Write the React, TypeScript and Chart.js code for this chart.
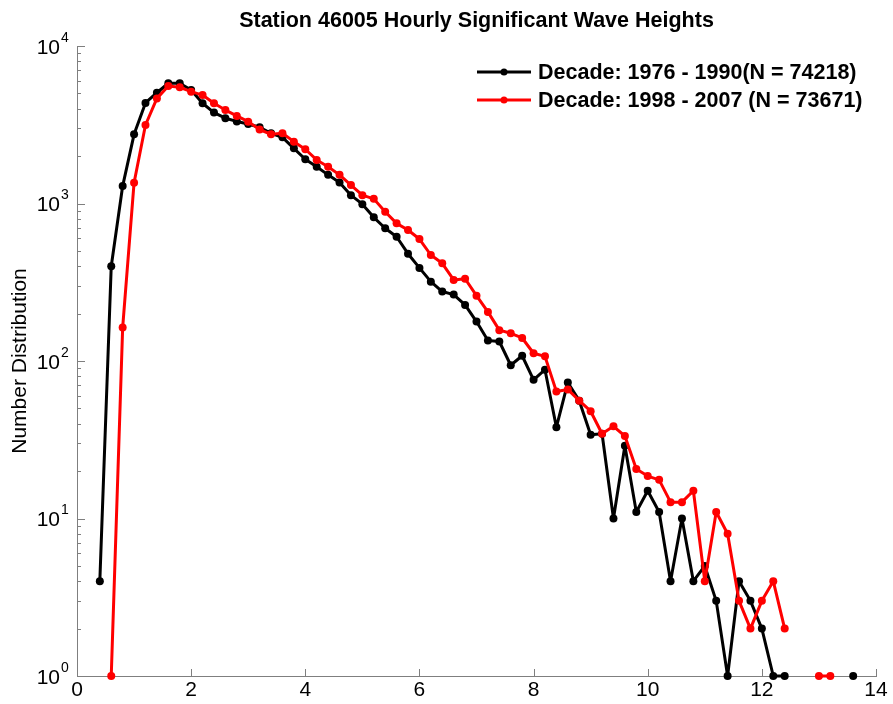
import React, { useEffect, useRef } from "react";
import { Chart, registerables } from "chart.js";

Chart.register(...registerables);

const chartTitle = "Station 46005 Hourly Significant Wave Heights";
const yAxisTitle = "Number Distribution";
const seriesLabels = [
  "Decade: 1976 - 1990(N = 74218)",
  "Decade: 1998 - 2007 (N = 73671)",
];
const seriesColors = ["#000000", "#ff0000"];

const waveHeights = [
  0.4, 0.6, 0.8, 1.0, 1.2, 1.4, 1.6, 1.8, 2.0, 2.2, 2.4, 2.6, 2.8, 3.0, 3.2, 3.4,
  3.6, 3.8, 4.0, 4.2, 4.4, 4.6, 4.8, 5.0, 5.2, 5.4, 5.6, 5.8, 6.0, 6.2, 6.4, 6.6,
  6.8, 7.0, 7.2, 7.4, 7.6, 7.8, 8.0, 8.2, 8.4, 8.6, 8.8, 9.0, 9.2, 9.4, 9.6, 9.8,
  10.0, 10.2, 10.4, 10.6, 10.8, 11.0, 11.2, 11.4, 11.6, 11.8, 12.0, 12.2, 12.4,
  12.6, 12.8, 13.0, 13.2, 13.4, 13.6,
];

const counts1976 = [
  4, 400, 1290, 2750, 4350, 5050, 5800, 5800, 5250, 4330, 3780, 3480, 3320, 3200, 3050, 2790,
  2630, 2240, 1910, 1710, 1520, 1360, 1130, 990, 817, 696, 615, 480, 390, 319, 276, 264,
  227, 178, 135, 133, 94, 108, 76, 88, 38, 73, 56, 34, 34.5, 10, 29, 11,
  15, 11, 4, 10, 4, 5, 3, 1, 4, 3, 2, 1, 1,
  null, null, null, null, null, 1,
];

const counts1998 = [
  null, 1, 163, 1356, 3150, 4650, 5570, 5470, 5130, 4880, 4330, 3920, 3600, 3310, 2950, 2750,
  2790, 2470, 2210, 1890, 1710, 1520, 1310, 1130, 1070, 887, 748, 679, 595, 471, 417, 327,
  333, 260, 205, 157, 150, 140, 112, 107, 64, 66, 56, 48, 34.5, 38.5, 33.4, 20.6,
  18.6, 17.6, 12.7, 12.7, 15, 4, 11, 8, 3, 2, 3, 4, 2,
  null, null, 1, 1, null, null,
];

const yDecadeExponents = [0, 1, 2, 3, 4];

const AXIS_COLOR = "#7f7f7f";
const FONT = "'Liberation Sans', Arial, sans-serif";

const decorPlugin = {
  id: "decor",
  afterDraw(chart: any) {
    const { ctx, chartArea: ca, scales } = chart;
    const xs = scales.x;
    const ys = scales.y;
    ctx.save();

    // inward ticks
    ctx.strokeStyle = AXIS_COLOR;
    ctx.lineWidth = 1;
    ctx.beginPath();
    for (const t of xs.ticks) {
      const px = Math.round(xs.getPixelForValue(t.value)) + 0.5;
      ctx.moveTo(px, ca.bottom);
      ctx.lineTo(px, ca.bottom - 7);
    }
    const topExp = yDecadeExponents[yDecadeExponents.length - 1];
    for (const e of yDecadeExponents) {
      for (let m = 1; m <= 9; m++) {
        const v = m * Math.pow(10, e);
        if (v > Math.pow(10, topExp)) break;
        const py = Math.round(ys.getPixelForValue(v)) + 0.5;
        const len = m === 1 ? 8 : 4;
        ctx.moveTo(ca.left, py);
        ctx.lineTo(ca.left + len, py);
      }
    }
    ctx.stroke();

    // y tick labels 10^n
    ctx.fillStyle = "#000";
    for (const e of yDecadeExponents) {
      const py = ys.getPixelForValue(Math.pow(10, e));
      ctx.font = `21px ${FONT}`;
      ctx.textAlign = "right";
      ctx.textBaseline = "middle";
      ctx.fillText("10", 60, py + 2);
      ctx.font = `14px ${FONT}`;
      ctx.textAlign = "left";
      ctx.fillText(String(e), 61, py - 8);
    }

    // title
    ctx.font = `bold 21.5px ${FONT}`;
    ctx.textAlign = "center";
    ctx.textBaseline = "middle";
    ctx.fillText(chartTitle, (ca.left + ca.right) / 2, 21);

    // legend
    const rows = [72, 100];
    for (let i = 0; i < seriesLabels.length; i++) {
      const y = rows[i];
      ctx.strokeStyle = seriesColors[i];
      ctx.lineWidth = 3;
      ctx.beginPath();
      ctx.moveTo(477, y);
      ctx.lineTo(531, y);
      ctx.stroke();
      ctx.fillStyle = seriesColors[i];
      ctx.beginPath();
      ctx.arc(504, y, 3.5, 0, Math.PI * 2);
      ctx.fill();
      ctx.fillStyle = "#000";
      ctx.font = `bold 21.5px ${FONT}`;
      ctx.textAlign = "left";
      ctx.textBaseline = "middle";
      ctx.fillText(seriesLabels[i], 538, y + 1);
    }
    ctx.restore();
  },
};

export default function App() {
  const canvasRef = useRef<HTMLCanvasElement | null>(null);

  useEffect(() => {
    document.body.style.margin = "0";
    const canvas = canvasRef.current;
    if (!canvas) return;

    const makeData = (arr: (number | null)[]) =>
      waveHeights.map((h, i) => ({ x: h, y: arr[i] }));

    const common = {
      borderWidth: 3,
      pointRadius: 4,
      pointBorderWidth: 0,
      borderJoinStyle: "round" as const,
      borderCapStyle: "round" as const,
      spanGaps: false,
      clip: false as any,
    };

    const chart = new Chart(canvas, {
      type: "line",
      data: {
        datasets: [
          {
            label: seriesLabels[0],
            data: makeData(counts1976) as any,
            borderColor: seriesColors[0],
            backgroundColor: seriesColors[0],
            pointBackgroundColor: seriesColors[0],
            pointBorderColor: seriesColors[0],
            ...common,
            order: 1,
          },
          {
            label: seriesLabels[1],
            data: makeData(counts1998) as any,
            borderColor: seriesColors[1],
            backgroundColor: seriesColors[1],
            pointBackgroundColor: seriesColors[1],
            pointBorderColor: seriesColors[1],
            ...common,
            order: 0,
          },
        ],
      },
      options: {
        animation: false,
        responsive: false,
        devicePixelRatio: 1,
        layout: { padding: { top: 46, right: 17, left: 0, bottom: 0 } },
        plugins: {
          legend: { display: false },
          title: { display: false },
          tooltip: { enabled: false },
        },
        scales: {
          x: {
            type: "linear",
            min: 0,
            max: 14,
            grid: { drawOnChartArea: false, drawTicks: false },
            border: { display: true, color: AXIS_COLOR, width: 1 },
            ticks: {
              stepSize: 2,
              padding: 2,
              color: "#000",
              font: { family: FONT, size: 21 },
              maxRotation: 0,
            },
            afterFit: (scale: any) => {
              scale.height = 28;
            },
          },
          y: {
            type: "logarithmic",
            min: 1,
            max: 10000,
            grid: { drawOnChartArea: false, drawTicks: false },
            border: { display: true, color: AXIS_COLOR, width: 1 },
            ticks: { display: false },
            title: {
              display: true,
              text: yAxisTitle,
              color: "#000",
              font: { family: FONT, size: 21 },
              padding: { top: 8, bottom: 0 },
            },
            afterFit: (scale: any) => {
              scale.width = 77;
            },
          },
        },
      },
      plugins: [decorPlugin],
    });

    return () => chart.destroy();
  }, []);

  return (
    <div style={{ width: 893, height: 704 }}>
      <canvas ref={canvasRef} width={893} height={704} style={{ display: "block" }} />
    </div>
  );
}
